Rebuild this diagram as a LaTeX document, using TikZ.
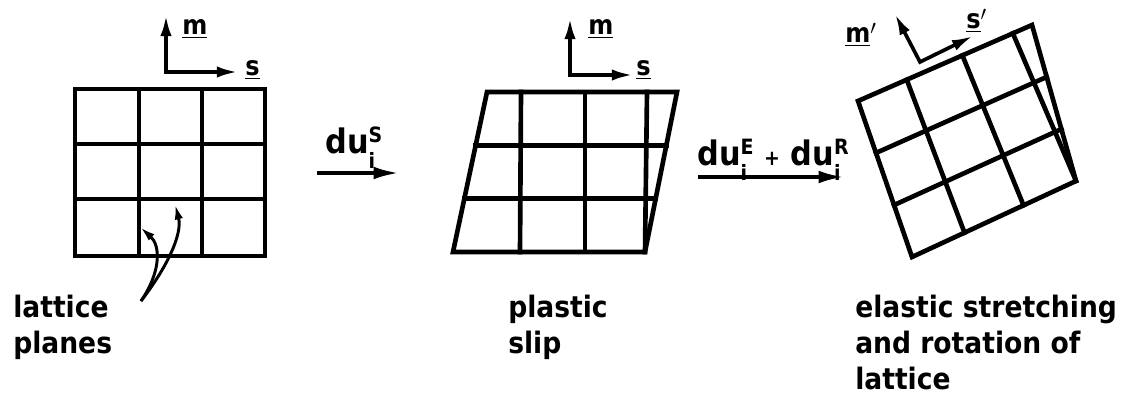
\documentclass[tikz,border=0pt]{standalone}
\usepackage{fontspec}
\setmainfont{DejaVu Sans Condensed}
\usepackage{tikz}
\usetikzlibrary{arrows.meta, calc}

\newcommand{\idxfont}{\fontsize{15}{15}\selectfont}
\newcommand{\incr}[1]{du\rlap{\raisebox{-0.45em}{\idxfont i}}\raisebox{0.3em}{\idxfont #1}}

\begin{document}
\begin{tikzpicture}[
  x=0.025cm, y=-0.025cm,
  every node/.style={font=\fontsize{21}{25.5}\selectfont\bfseries, inner sep=0pt},
  lattice/.style={line width=3.3pt, line join=miter, line cap=rect},
  axes/.style={line width=2.6pt, line join=miter,
               {Latex[length=15pt, width=8pt]}-{Latex[length=15pt, width=8pt]}},
  steparrow/.style={line width=2.6pt, -{Latex[length=18pt, width=9pt]}},
  pointer/.style={line width=2.1pt, -{Latex[length=11pt, width=6pt]}},
  vec/.style={font=\fontsize{19}{19}\selectfont\bfseries, anchor=base west},
  caption/.style={align=left, anchor=north west},
  incrlabel/.style={anchor=base west, font=\fontsize{24}{24}\selectfont\bfseries}
]
\useasboundingbox (0,0) rectangle (1128,400);

%% ─── Panel 1: undeformed lattice ────────────────────────────────────────────
\draw[lattice] (75,89) rectangle (265,256);
\foreach \x in {139,202} \draw[lattice] (\x,89) -- (\x,256);
\foreach \y in {144,199} \draw[lattice] (75,\y) -- (265,\y);

\coordinate (m1) at (166,15);
\coordinate (s1) at (238,72);
\draw[axes] (m1) |- (s1);
\node[vec] (m1lab) at (182,35) {\underline{m}};
\node[vec] (s1lab) at (245,76) {\underline{s}};

\node[caption] (planes) at (13,295) {lattice\\planes};
\coordinate (tail) at (141,301);
\draw[pointer] (tail) .. controls (162,270) and (160,245) .. (140,227);
\draw[pointer] (tail) .. controls (165,270) and (183,235) .. (175,204);

%% ─── Step 1: plastic slip ───────────────────────────────────────────────────
\coordinate (a1s) at (317,173);
\coordinate (a1e) at (399,173);
\draw[steparrow] (a1s) -- (a1e);
\node[incrlabel] (du1) at (325,153) {\incr{S}};

%% ─── Panel 2: slipped lattice ───────────────────────────────────────────────
\coordinate (bl2) at (453,252);
\coordinate (br2) at (645,252);
\coordinate (tr2) at (677,92);
\coordinate (tl2) at (487,92);
\draw[lattice] (bl2) -- (br2) -- (tr2) -- (tl2) -- cycle;
\draw[lattice] (521,92) -- (520,252);
\draw[lattice] (585,92) -- (585,252);
\draw[lattice] (647,92) -- (br2);
\foreach \t in {0.333,0.667}
  \draw[lattice] ($(bl2)!\t!(tl2)$) -- ($(br2)!\t!(tr2)$);

\coordinate (m2) at (570,18);
\coordinate (s2) at (633,75);
\draw[axes] (m2) |- (s2);
\node[vec] (m2lab) at (588,35) {\underline{m}};
\node[vec] (s2lab) at (636,76) {\underline{s}};

\node[caption] (slip) at (508,295) {plastic\\slip};

%% ─── Step 2: elastic stretching and rotation ────────────────────────────────
\coordinate (a2s) at (698,177);
\coordinate (a2e) at (844,177);
\draw[steparrow] (a2s) -- (a2e);
\node[incrlabel] (du2) at (697,165) {\incr{E} {\idxfont+} \incr{R}};

%% ─── Panel 3: rotated lattice ───────────────────────────────────────────────
\coordinate (bl3) at (912,257);
\coordinate (br3) at (1076,181);
\coordinate (tr3) at (1032,25);
\coordinate (tl3) at (858,101);
\draw[lattice] (bl3) -- (br3) -- (tr3) -- (tl3) -- cycle;
\draw[lattice] ($(tl3)!0.28!(tr3)$) -- ($(bl3)!0.32!(br3)$);
\draw[lattice] ($(tl3)!0.60!(tr3)$) -- ($(bl3)!0.68!(br3)$);
\draw[lattice] ($(tl3)!0.89!(tr3)$) -- (br3);
\foreach \t in {0.333,0.667}
  \draw[lattice] ($(bl3)!\t!(tl3)$) -- ($(br3)!\t!(tr3)$);

\coordinate (m3) at (895,14);
\coordinate (o3) at (920,62);
\coordinate (s3) at (973,36);
\draw[axes] (m3) -- (o3) -- (s3);
\node[vec] (m3lab) at (845,43) {\underline{m}$'$};
\node[vec] (s3lab) at (966,29) {\underline{s}$'$};

\node[caption] (stretch) at (855,295) {elastic stretching\\and rotation of\\lattice};

\end{tikzpicture}
\end{document}
